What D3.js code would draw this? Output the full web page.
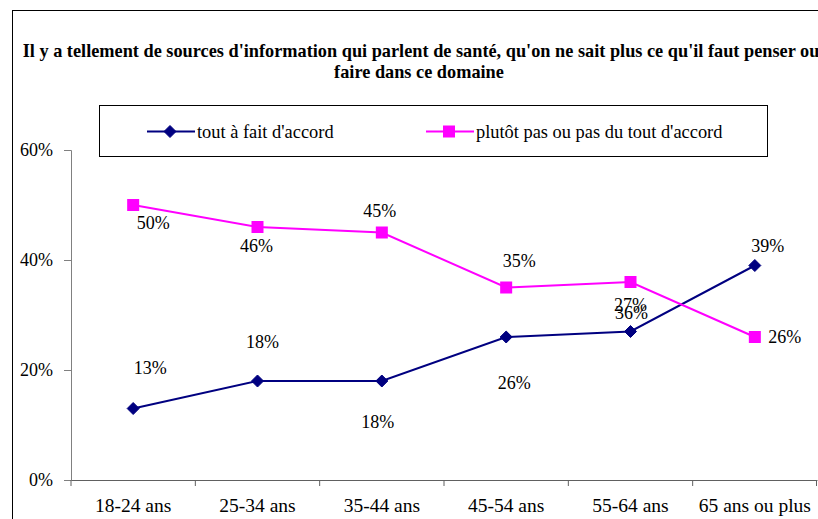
<!DOCTYPE html>
<html>
<head>
<meta charset="utf-8">
<script src="https://cdn.jsdelivr.net/npm/d3@7"></script>
<style>
  body { margin: 0; background: #fff; overflow: hidden; }
  text { font-family: "Liberation Serif", "Times New Roman", serif; }
</style>
</head>
<body>
<div id="chart"></div>
<script>
const categories = ["18-24 ans", "25-34 ans", "35-44 ans", "45-54 ans", "55-64 ans", "65 ans ou plus"];
const seriesNames = ["tout à fait d'accord", "plutôt pas ou pas du tout d'accord"];
const accordValues = [13, 18, 18, 26, 27, 39];
const pasAccordValues = [50, 46, 45, 35, 36, 26];
const yTicks = [0, 20, 40, 60];

// label offsets (px) from each point, as placed in the original
const accordLabelOffsets = [[17, -35], [5, -33], [-4, 47], [8, 52], [0, -21], [13, -14]];
const pasAccordLabelOffsets = [[20, 24], [-1, 25], [-2, -16], [13, -21], [1, 37], [30, 6]];

const FONT = "Liberation Serif";
const W = 818, H = 519;
const margin = { left: 71, right: 1, top: 150, bottom: 39 };

const svg = d3.select("#chart").append("svg")
  .attr("width", W).attr("height", H);

// outer chart border
svg.append("rect")
  .attr("x", 12.5).attr("y", 10.5)
  .attr("width", W + 10).attr("height", H + 10)
  .attr("fill", "none").attr("stroke", "#000").attr("stroke-width", 1);

// title
const title = svg.append("text")
  .attr("text-anchor", "middle")
  .attr("font-family", FONT)
  .attr("font-weight", "bold")
  .attr("font-size", 18.3)
  .attr("fill", "#000");
title.append("tspan").attr("x", 421).attr("y", 57)
  .text("Il y a tellement de sources d'information qui parlent de santé, qu'on ne sait plus ce qu'il faut penser ou");
title.append("tspan").attr("x", 419).attr("y", 78)
  .text("faire dans ce domaine");

const x = d3.scaleBand()
  .domain(categories)
  .range([margin.left, W - margin.right]);
const y = d3.scaleLinear()
  .domain([0, 60])
  .range([H - margin.bottom, margin.top]);

// y axis
const yAxis = svg.append("g")
  .attr("transform", `translate(${margin.left},0)`)
  .call(d3.axisLeft(y).tickValues(yTicks).tickFormat(d => d + "%").tickSize(7).tickPadding(11));
yAxis.select(".domain").attr("stroke", "#808080");
yAxis.selectAll(".tick line").attr("stroke", "#808080");
yAxis.selectAll(".tick text")
  .attr("font-family", FONT).attr("font-size", 18).attr("fill", "#000");

// x axis
const xAxis = svg.append("g")
  .attr("transform", `translate(0,${y(0)})`)
  .call(d3.axisBottom(x).tickSize(0).tickPadding(18));
xAxis.select(".domain").attr("stroke", "#606060");
xAxis.selectAll(".tick text")
  .attr("font-family", FONT).attr("font-size", 19.5).attr("fill", "#000");
// ticks between categories
svg.append("g").selectAll("line")
  .data(categories.concat(["end"]))
  .join("line")
  .attr("x1", (d, i) => i < categories.length ? x(d) : x.range()[1] - 0.5)
  .attr("x2", (d, i) => i < categories.length ? x(d) : x.range()[1] - 0.5)
  .attr("y1", y(0)).attr("y2", y(0) + 6)
  .attr("stroke", "#606060");

const cx = d => x(d) + x.bandwidth() / 2;
const line = d3.line().x(d => cx(d.cat)).y(d => y(d.v));

const series = [
  { name: seriesNames[0], values: accordValues, offsets: accordLabelOffsets, color: "#000080", marker: "diamond" },
  { name: seriesNames[1], values: pasAccordValues, offsets: pasAccordLabelOffsets, color: "#ff00ff", marker: "square" }
];

function drawMarker(g, type, color) {
  if (type === "diamond") {
    g.append("path").attr("d", "M0,-6L6,0L0,6L-6,0Z").attr("fill", color).attr("stroke", color);
  } else {
    g.append("rect").attr("x", -6).attr("y", -6).attr("width", 12).attr("height", 12).attr("fill", color);
  }
}

series.forEach(s => {
  const pts = categories.map((c, i) => ({ cat: c, v: s.values[i], off: s.offsets[i] }));
  svg.append("path")
    .datum(pts)
    .attr("fill", "none")
    .attr("stroke", s.color)
    .attr("stroke-width", 2)
    .attr("d", line);
  pts.forEach(p => {
    const g = svg.append("g").attr("transform", `translate(${cx(p.cat)},${y(p.v)})`);
    drawMarker(g, s.marker, s.color);
  });
  svg.append("g").selectAll("text")
    .data(pts)
    .join("text")
    .attr("x", p => cx(p.cat) + p.off[0])
    .attr("y", p => y(p.v) + p.off[1])
    .attr("text-anchor", "middle")
    .attr("font-family", FONT)
    .attr("font-size", 18)
    .attr("fill", "#000")
    .text(p => p.v + "%");
});

// legend
const legend = svg.append("g");
legend.append("rect")
  .attr("x", 99.5).attr("y", 105.5).attr("width", 668).attr("height", 51)
  .attr("fill", "#fff").attr("stroke", "#000");
const legendX = [147, 426];
series.forEach((s, i) => {
  const g = legend.append("g").attr("transform", `translate(${legendX[i]},131.5)`);
  g.append("line").attr("x1", 0).attr("x2", 48).attr("stroke", s.color).attr("stroke-width", 2);
  const m = g.append("g").attr("transform", "translate(23,0)");
  drawMarker(m, s.marker, s.color);
  g.append("text").attr("x", 50).attr("y", 6)
    .attr("font-family", FONT)
    .attr("font-size", 18.4).attr("fill", "#000").text(s.name);
});
</script>
</body>
</html>
